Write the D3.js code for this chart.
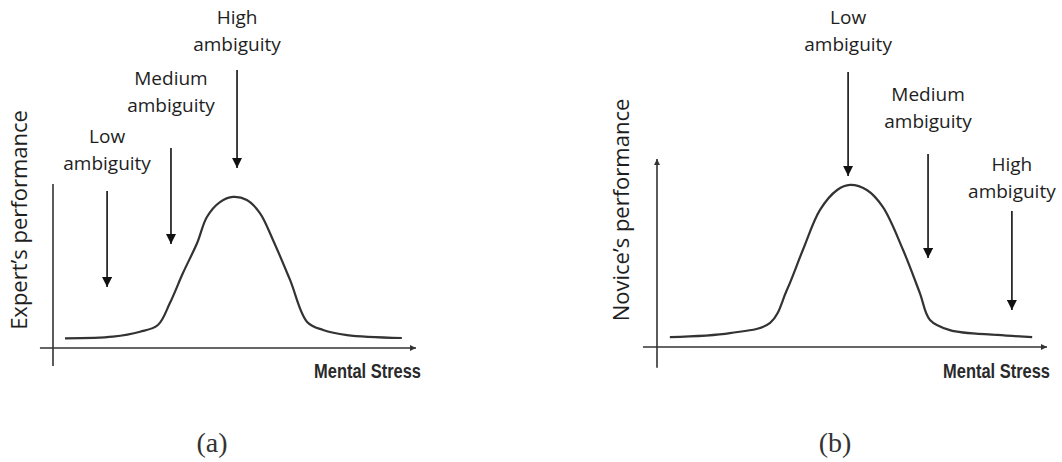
<!DOCTYPE html>
<html>
<head>
<meta charset="utf-8">
<script src="https://cdn.jsdelivr.net/npm/d3@7"></script>
<style>
  body { margin: 0; background: #fff; }
  svg { display: block; }
  .amb { font-family: "Open Sans", sans-serif; font-size: 19px; fill: #1e1e1e; }
  .ylab { font-family: "Open Sans", sans-serif; font-size: 22px; fill: #1e1e1e; }
  .xlab { font-family: "Liberation Sans Narrow", "Arial Narrow", "Liberation Sans", sans-serif; font-weight: bold; font-size: 20px; fill: #2a2a2a; }
  .cap { font-family: "Liberation Serif", "Times New Roman", serif; font-size: 28px; fill: #333; }
</style>
</head>
<body>
<svg id="chart"></svg>
<script>
// (a) expert curve (stress 0-10, performance 0-10)
const expertStress = [0.33, 1.65, 2.40, 2.89, 3.22, 3.58, 3.97, 4.24, 4.60, 4.96, 5.34, 5.70, 6.06, 6.53, 7.00, 7.44, 8.10, 9.61];
const expertPerf   = [0.59, 0.69, 0.99, 1.40, 2.74, 4.57, 6.40, 7.99, 8.90, 9.21, 9.02, 8.23, 6.59, 4.15, 1.59, 1.10, 0.79, 0.61];

// (b) novice curve
const noviceStress = [0.33, 1.87, 2.90, 3.33, 3.74, 4.18, 4.62, 4.95, 5.38, 5.79, 6.31, 6.74, 7.00, 7.51, 8.72, 9.62];
const novicePerf   = [0.53, 0.74, 1.28, 3.03, 5.16, 7.29, 8.35, 8.62, 8.35, 7.45, 5.16, 2.87, 1.44, 0.90, 0.64, 0.53];

// ambiguity markers
const expertLevels      = ["Low", "Medium", "High"];
const expertArrowStress = [1.49, 3.25, 5.07];
const expertArrowTop    = [9.57, 12.2, 16.95];
const expertArrowTip    = [3.72, 6.34, 10.98];
const expertLabelPerf   = [11.22, 14.76, 18.48];

const noviceLevels      = ["Low", "Medium", "High"];
const noviceArrowStress = [4.90, 6.95, 9.10];
const noviceArrowTop    = [14.63, 10.27, 7.23];
const noviceArrowTip    = [9.10, 4.73, 1.97];
const noviceLabelPerf   = [16.06, 11.97, 8.24];

const width = 1062, height = 462;

const svg = d3.select("#chart")
    .attr("width", width)
    .attr("height", height);

svg.append("rect").attr("width", width).attr("height", height).attr("fill", "#fff");

const defs = svg.append("defs");
defs.append("marker")
    .attr("id", "head")
    .attr("markerUnits", "userSpaceOnUse")
    .attr("viewBox", "0 0 10 10")
    .attr("refX", 10).attr("refY", 5)
    .attr("markerWidth", 11).attr("markerHeight", 10)
    .attr("orient", "auto")
  .append("path")
    .attr("d", "M0,0L10,5L0,10Z")
    .attr("fill", "#111");
defs.append("marker")
    .attr("id", "axhead")
    .attr("markerUnits", "userSpaceOnUse")
    .attr("viewBox", "0 0 10 10")
    .attr("refX", 10).attr("refY", 5)
    .attr("markerWidth", 7).attr("markerHeight", 6)
    .attr("orient", "auto")
  .append("path")
    .attr("d", "M0,0L10,5L0,10Z")
    .attr("fill", "#333");

function drawPanel(p) {
    const x = d3.scaleLinear().domain([0, 10]).range(p.xRange);
    const y = d3.scaleLinear().domain([0, 10]).range(p.yRange);
    const g = svg.append("g");

    // axes
    g.append("line")
        .attr("x1", x(-0.36)).attr("x2", x(10))
        .attr("y1", y(0)).attr("y2", y(0))
        .attr("stroke", "#333").attr("stroke-width", 1.6)
        .attr("marker-end", "url(#axhead)");
    const yAxis = g.append("line")
        .attr("x1", x(0)).attr("x2", x(0))
        .attr("y1", y(-1.1)).attr("y2", y(10))
        .attr("stroke", "#333").attr("stroke-width", 1.6);
    if (p.yArrow) yAxis.attr("marker-end", "url(#axhead)");

    // curve
    const pts = p.stress.map((s, i) => [s, p.perf[i]]);
    const line = d3.line()
        .x(d => x(d[0]))
        .y(d => y(d[1]))
        .curve(d3.curveCatmullRom.alpha(0.5));
    g.append("path")
        .attr("d", line(pts))
        .attr("fill", "none")
        .attr("stroke", "#333")
        .attr("stroke-width", 2.2);

    // ambiguity arrows + labels
    p.levels.forEach((lv, i) => {
        const ax = x(p.arrowStress[i]);
        g.append("line")
            .attr("x1", ax).attr("x2", ax)
            .attr("y1", y(p.arrowTop[i])).attr("y2", y(p.arrowTip[i]))
            .attr("stroke", "#111").attr("stroke-width", 1.6)
            .attr("marker-end", "url(#head)");
        const t = g.append("text")
            .attr("class", "amb")
            .attr("text-anchor", "middle")
            .attr("x", ax)
            .attr("y", y(p.labelPerf[i]) + 6);
        t.append("tspan").attr("x", ax).attr("dy", -27).text(lv);
        t.append("tspan").attr("x", ax).attr("dy", 27).text("ambiguity");
    });

    // axis titles
    g.append("text")
        .attr("class", "ylab")
        .attr("text-anchor", "middle")
        .attr("transform", `translate(${p.yLabelX},${p.yLabelY}) rotate(-90)`)
        .text(p.yTitle);

    // condensed bold x title: squeeze to the width seen in the picture
    const xt = g.append("text")
        .attr("class", "xlab")
        .attr("text-anchor", "end")
        .text("Mental Stress");
    const k = 107 / xt.node().getComputedTextLength();
    xt.attr("transform", `translate(${p.xLabelX},378) scale(${Math.min(k, 1)},1)`);

    g.append("text")
        .attr("class", "cap")
        .attr("text-anchor", "middle")
        .attr("x", p.capX)
        .attr("y", 452)
        .text(p.caption);
}

drawPanel({
    xRange: [53, 416], yRange: [348, 184], yArrow: false,
    stress: expertStress, perf: expertPerf,
    levels: expertLevels, arrowStress: expertArrowStress, arrowTop: expertArrowTop,
    arrowTip: expertArrowTip, labelPerf: expertLabelPerf,
    yTitle: "Expert’s performance", yLabelX: 27, yLabelY: 220,
    xLabelX: 421, capX: 212, caption: "(a)"
});

drawPanel({
    xRange: [657, 1047], yRange: [347, 159], yArrow: true,
    stress: noviceStress, perf: novicePerf,
    levels: noviceLevels, arrowStress: noviceArrowStress, arrowTop: noviceArrowTop,
    arrowTip: noviceArrowTip, labelPerf: noviceLabelPerf,
    yTitle: "Novice’s performance", yLabelX: 629, yLabelY: 210,
    xLabelX: 1050, capX: 835, caption: "(b)"
});
</script>
</body>
</html>
